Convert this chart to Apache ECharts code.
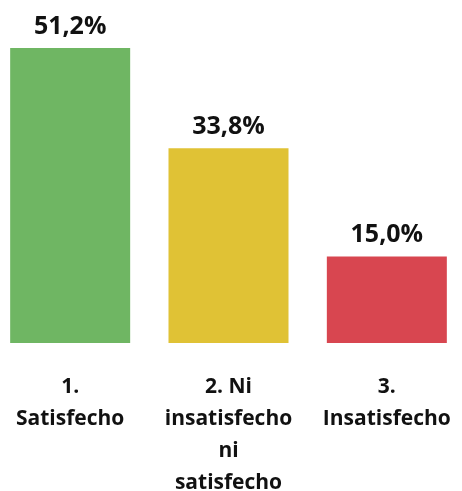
<!DOCTYPE html>
<html>
<head>
<meta charset="utf-8">
<script src="https://cdn.jsdelivr.net/npm/echarts@6/dist/echarts.min.js"></script>
<style>
  html, body { margin: 0; padding: 0; background: #fff; }
  #chart { width: 462px; height: 491px; }
</style>
</head>
<body>
<div id="chart"></div>
<script>
// Satisfaction levels and their share of responses (%)
const categories = ['1.\nSatisfecho', '2. Ni\ninsatisfecho\nni\nsatisfecho', '3.\nInsatisfecho'];
const shares = [51.2, 33.8, 15.0];
const barColors = ['#6fb663', '#e0c235', '#d84650'];

const chart = echarts.init(document.getElementById('chart'));
chart.setOption({
  animation: false,
  grid: { left: -9, width: 475, top: 26, height: 317, outerBoundsMode: 'none', containLabel: false },
  xAxis: {
    type: 'category',
    data: categories,
    axisLine: { show: false },
    axisTick: { show: false },
    axisLabel: {
      interval: 0,
      margin: 28,
      fontFamily: 'Open Sans',
      fontWeight: 'bold',
      fontSize: 21,
      lineHeight: 32,
      color: '#111'
    }
  },
  yAxis: {
    type: 'value',
    min: 0,
    max: 55,
    show: false,
    splitLine: { show: false }
  },
  series: [{
    type: 'bar',
    barWidth: 120,
    data: shares.map((v, i) => ({ value: v, itemStyle: { color: barColors[i] } })),
    label: {
      show: true,
      position: 'top',
      distance: 9,
      fontFamily: 'Open Sans',
      fontWeight: 'bold',
      fontSize: 25,
      color: '#111',
      formatter: p => p.value.toFixed(1).replace('.', ',') + '%'
    }
  }]
});
</script>
</body>
</html>
